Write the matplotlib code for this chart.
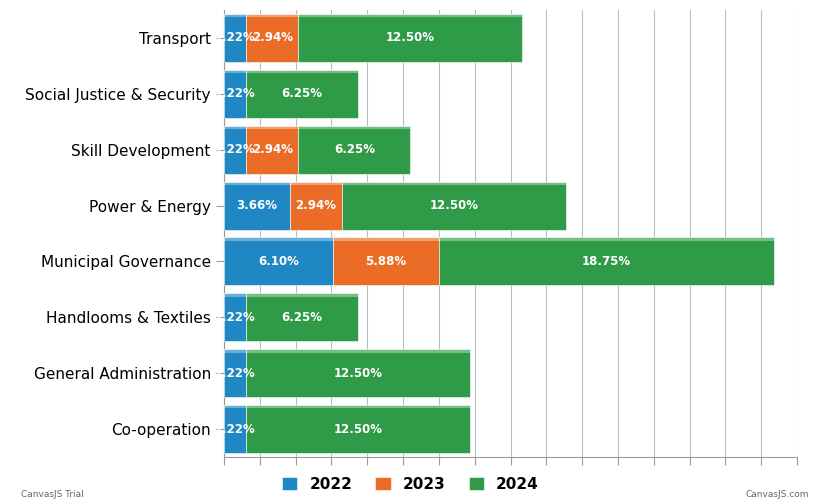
import matplotlib.pyplot as plt
import numpy as np

categories = ["Co-operation", "General Administration", "Handlooms & Textiles",
              "Municipal Governance", "Power & Energy", "Skill Development",
              "Social Justice & Security", "Transport"]
v2022 = [1.22, 1.22, 1.22, 6.10, 3.66, 1.22, 1.22, 1.22]
v2023 = [0, 0, 0, 5.88, 2.94, 2.94, 0, 2.94]
v2024 = [12.50, 12.50, 6.25, 18.75, 12.50, 6.25, 6.25, 12.50]
series = [("2022", v2022, "#1e87c4"), ("2023", v2023, "#ea6c27"), ("2024", v2024, "#2f9a48")]

fig = plt.figure(figsize=(8.21, 5.03), dpi=100)
ax = fig.add_axes([224/821, 1-457/503, (797-224)/821, (457-10)/503])
y = np.arange(len(categories))
left = np.zeros(len(categories))
h = 0.86
for name, vals, col in series:
    vals = np.array(vals)
    ax.barh(y, vals, left=left, height=h, color=col, label=name, zorder=3,
            edgecolor="white", linewidth=0.4)
    # lighter top strip for the 3D look
    ax.barh(y + h/2 - 0.03, vals, left=left, height=0.06, color="white", alpha=0.35, zorder=4, linewidth=0)
    for yi, l, v in zip(y, left, vals):
        if v > 0:
            ax.text(l + v/2, yi, f"{v:.2f}%", ha="center", va="center", color="white",
                    fontsize=8.5, fontweight="bold", zorder=5)
    left += vals

ax.set_xlim(0, 32)
ax.set_ylim(-0.5, len(categories) - 0.5)
ax.set_xticks(np.arange(0, 33, 2))
ax.set_xticklabels([])
ax.tick_params(axis="x", length=6, color="#999999")
ax.tick_params(axis="y", length=6, color="#999999", labelsize=11)
ax.set_yticks(y)
ax.set_yticklabels(categories)
ax.grid(axis="x", color="#bbbbbb", linewidth=0.8, zorder=0)
for s in ["top", "right"]:
    ax.spines[s].set_visible(False)
ax.spines["left"].set_color("#999999")
ax.spines["bottom"].set_color("#999999")

fig.legend(loc="lower center", bbox_to_anchor=(0.5, -0.005), ncol=3, frameon=False,
           fontsize=11, handlelength=1, handleheight=1, columnspacing=1.5,
           prop={"weight": "bold", "size": 11})
fig.text(0.025, 0.012, "CanvasJS Trial", fontsize=6.5, color="#666666")
fig.text(0.985, 0.012, "CanvasJS.com", fontsize=6.5, color="#666666", ha="right")
fig.savefig("out.png", dpi=100)
